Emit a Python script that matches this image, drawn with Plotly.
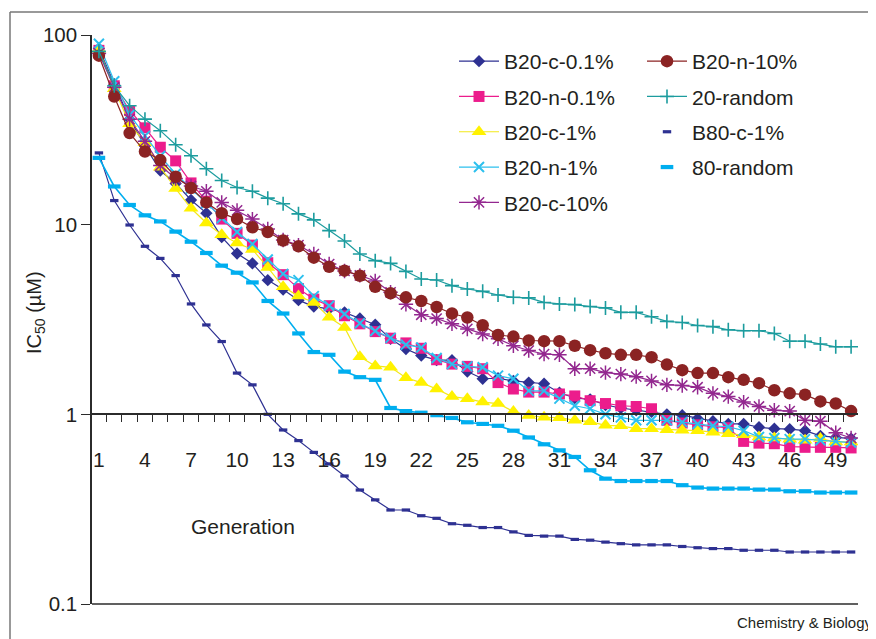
import plotly.graph_objects as go

generation = list(range(1, 51))

b20_c_01 = [85, 55, 36, 26, 19.3, 16.5, 13.5, 11.5, 8.6, 7.05,
            6.25, 5.1, 4.55, 4.0, 3.7, 3.6, 3.45, 3.2, 2.97, 2.5,
            2.21, 2.04, 1.93, 1.93, 1.68, 1.54, 1.55, 1.5, 1.47, 1.45,
            1.3, 1.22, 1.2, 1.12, 1.08, 1.05, 1.03, 1.0, 0.99, 0.95,
            0.92, 0.89, 0.89, 0.855, 0.84, 0.835, 0.82, 0.77, 0.755, 0.745]
b20_n_01 = [83, 54, 40, 32.4, 25.6, 21.7, 16.6, 13.3, 10.7, 9.0,
            7.8, 6.3, 5.45, 4.6, 4.05, 3.74, 3.31, 3.0, 2.73, 2.52,
            2.38, 2.23, 1.94, 1.84, 1.79, 1.74, 1.47, 1.36, 1.31, 1.31,
            1.28, 1.25, 1.18, 1.14, 1.11, 1.10, 1.07, 0.93, 0.9, 0.88,
            0.86, 0.85, 0.72, 0.705, 0.70, 0.675, 0.67, 0.67, 0.67, 0.665]
b20_c_1 = [84, 52, 34, 27, 20.1, 15.5, 12.2, 10.2, 8.85, 8.0,
           7.4, 5.95, 4.7, 4.2, 3.89, 3.25, 2.87, 2.01, 1.8, 1.77,
           1.56, 1.47, 1.36, 1.24, 1.21, 1.16, 1.14, 1.035, 0.985, 0.965,
           0.96, 0.93, 0.915, 0.875, 0.87, 0.84, 0.84, 0.83, 0.825, 0.82,
           0.805, 0.79, 0.78, 0.76, 0.75, 0.74, 0.73, 0.745, 0.715, 0.715]
b20_n_1 = [90, 57, 38, 29.4, 23, 18.5, 15.5, 13, 10.8, 9.15,
           7.9, 6.55, 5.5, 5.1, 4.2, 3.74, 3.38, 3.02, 2.75, 2.53,
           2.33, 2.25, 1.98, 1.84, 1.79, 1.77, 1.6, 1.54, 1.33, 1.33,
           1.21, 1.11, 1.07, 1.0, 0.964, 0.93, 0.93, 0.93, 0.91, 0.89,
           0.87, 0.86, 0.82, 0.76, 0.75, 0.74, 0.74, 0.73, 0.72, 0.71]
b20_c_10 = [80, 53, 36, 27.5, 20.5, 17.5, 16, 15.0, 13.1, 11.9,
            10.7, 9.5, 8.3, 7.8, 7.0, 6.2, 5.7, 5.4, 5.05, 4.4,
            3.8, 3.35, 3.2, 3.0, 2.82, 2.65, 2.5, 2.3, 2.17, 2.08,
            2.06, 1.74, 1.74, 1.66, 1.63, 1.58, 1.50, 1.43, 1.42, 1.39,
            1.29, 1.24, 1.16, 1.10, 1.05, 1.04, 0.93, 0.92, 0.80, 0.75]
b20_n_10 = [77.8, 47.4, 30.4, 24.3, 21.9, 17.9, 15.6, 13.1, 11.5, 10.7,
            9.68, 9.15, 8.25, 7.69, 6.7, 6.0, 5.72, 5.38, 4.7, 4.35,
            4.14, 3.96, 3.68, 3.4, 3.24, 2.95, 2.62, 2.57, 2.45, 2.43,
            2.43, 2.3, 2.18, 2.1, 2.06, 2.06, 2.0, 1.83, 1.71, 1.65,
            1.65, 1.57, 1.52, 1.46, 1.34, 1.29, 1.27, 1.17, 1.14, 1.04]
random_20 = [82, 54, 42.4, 36, 31.3, 26.4, 23.1, 19.7, 17.1, 15.7,
             15.0, 13.8, 12.9, 11.4, 10.6, 9.3, 8.2, 7.0, 6.46, 6.25,
             5.67, 5.17, 5.11, 4.77, 4.58, 4.45, 4.26, 4.14, 4.11, 3.89,
             3.82, 3.79, 3.70, 3.64, 3.45, 3.45, 3.27, 3.09, 3.05, 2.94,
             2.90, 2.79, 2.76, 2.76, 2.67, 2.43, 2.43, 2.35, 2.27, 2.27]
b80_c_1 = [23.9, 13.4, 9.96, 7.69, 6.64, 5.39, 3.82, 2.96, 2.42, 1.65,
           1.43, 1.0, 0.827, 0.727, 0.63, 0.548, 0.473, 0.399, 0.354, 0.313,
           0.313, 0.292, 0.283, 0.265, 0.26, 0.253, 0.253, 0.24, 0.23, 0.228,
           0.228, 0.219, 0.217, 0.212, 0.208, 0.205, 0.205, 0.205, 0.201, 0.198,
           0.196, 0.196, 0.192, 0.192, 0.192, 0.188, 0.188, 0.188, 0.188, 0.188]
random_80 = [22.5, 15.9, 12.7, 11.2, 10.4, 9.19, 8.13, 7.09, 6.08, 5.58,
             4.96, 3.96, 3.4, 2.67, 2.13, 2.06, 1.68, 1.57, 1.52, 1.08,
             1.04, 1.02, 0.99, 0.957, 0.908, 0.89, 0.87, 0.82, 0.755, 0.695,
             0.646, 0.596, 0.507, 0.458, 0.445, 0.445, 0.445, 0.445, 0.423, 0.411,
             0.406, 0.406, 0.406, 0.401, 0.401, 0.393, 0.393, 0.387, 0.387, 0.387]

x_tick_labels = [str(v) for v in range(1, 51, 3)]
y_tick_vals = [0.1, 1, 10, 100]
y_tick_text = ["0.1", "1", "10", "100"]

FONT = "Liberation Sans, Arial, Helvetica, sans-serif"
TXT = "#231f20"
AX = "#2b2b2b"

# the page body adds an 8px margin, so the figure is made 8px smaller
OFF = 8
W, H = 876 - OFF, 639 - OFF
# plot area in page pixels: x 92..858, y 35..604
PL, PR, PT, PB = 92, 858, 35, 604
ML, MR, MT, MB = PL - OFF, W - (PR - OFF), PT - OFF, H - (PB - OFF)
PW, PH = PR - PL, PB - PT


def px_x(p):
    return (p - PL) / PW


def px_y(p):
    return (PB - p) / PH


fig = go.Figure()

series = [
    ("B20-c-0.1%", b20_c_01, "#2e3192", dict(symbol="diamond", size=9.5, color="#2e3192"), "legend"),
    ("B20-n-0.1%", b20_n_01, "#ec1c8c", dict(symbol="square", size=11, color="#ec1c8c"), "legend"),
    ("B20-c-1%", b20_c_1, "#f2e81a", dict(symbol="triangle-up", size=13, color="#fff200"), "legend"),
    ("B20-n-1%", b20_n_1, "#2cc0ee", dict(symbol="x-thin", size=10, color="#2cc0ee",
                                          line=dict(color="#2cc0ee", width=2)), "legend"),
    ("B20-c-10%", b20_c_10, "#93278f", dict(symbol="asterisk", size=12, color="#93278f",
                                             line=dict(color="#93278f", width=1.5)), "legend"),
    ("B20-n-10%", b20_n_10, "#8b2323", dict(symbol="circle", size=12.5, color="#8b2323"), "legend2"),
    ("20-random", random_20, "#1c9c9e", dict(symbol="cross-thin", size=10, color="#1c9c9e",
                                             line=dict(color="#1c9c9e", width=1.6)), "legend2"),
]

for i, (name, vals, lc, mk, leg) in enumerate(series):
    fig.add_trace(go.Scatter(
        x=generation, y=vals, name=name, mode="lines+markers",
        line=dict(color=lc, width=1.2), marker=mk,
        legend=leg, legendgroup=name, legendrank=i + 1,
    ))

# dash-marker series: line without legend entry, markers with legend entry
dash_series = [
    ("B80-c-1%", b80_c_1, "#2e3192", 6.0, 3.2, 1.2),
    ("80-random", random_80, "#00aeef", 9.0, 4.2, 1.6),
]
for j, (name, vals, col, msize, mlw, lw) in enumerate(dash_series):
    fig.add_trace(go.Scatter(
        x=generation, y=vals, mode="lines", line=dict(color=col, width=lw),
        showlegend=False, hoverinfo="skip", legend="legend2",
    ))
    fig.add_trace(go.Scatter(
        x=generation, y=vals, name=name, mode="markers",
        marker=dict(symbol="line-ew", size=msize, color=col,
                    line=dict(color=col, width=mlw)),
        legend="legend2", legendgroup=name, legendrank=10 + j,
    ))

legend_common = dict(
    bgcolor="rgba(0,0,0,0)", borderwidth=0,
    font=dict(family=FONT, size=21, color=TXT),
    traceorder="grouped", tracegroupgap=5, itemwidth=40,
    xanchor="left", yanchor="top",
)

fig.update_layout(
    width=W, height=H,
    margin=dict(l=ML, r=MR, t=MT, b=MB, autoexpand=False),
    paper_bgcolor="white", plot_bgcolor="white",
    font=dict(family=FONT, color=TXT, size=20),
    legend=dict(x=px_x(454), y=px_y(41), **legend_common),
    legend2=dict(x=px_x(642), y=px_y(41), **legend_common),
    xaxis=dict(
        range=[0.55, 50.45], anchor="free", position=1 / 3,
        showline=True, linecolor=AX, linewidth=1.5,
        tickmode="array", tickvals=list(range(1, 51, 3)), ticktext=x_tick_labels,
        ticks="", ticklabelstandoff=27,
        tickfont=dict(family=FONT, size=21, color=TXT),
        minor=dict(tickmode="array", tickvals=[k + 0.5 for k in range(0, 51)],
                   ticks="outside", ticklen=7, tickwidth=1.3, tickcolor=AX,
                   showgrid=False),
        showgrid=False, zeroline=False,
    ),
    yaxis=dict(
        type="log", range=[-1, 2],
        showline=True, linecolor=AX, linewidth=1.5,
        tickmode="array", tickvals=y_tick_vals, ticktext=y_tick_text,
        ticks="outside", ticklen=9, tickwidth=1.3, tickcolor=AX,
        tickfont=dict(family=FONT, size=20.5, color=TXT),
        showgrid=False, zeroline=False,
    ),
    shapes=[
        dict(type="line", xref="paper", yref="paper", x0=0, x1=1, y0=0, y1=0,
             line=dict(color=AX, width=1.5)),
        dict(type="line", xref="paper", yref="paper", x0=px_x(10), x1=px_x(10),
             y0=px_y(639), y1=px_y(12), line=dict(color="#777777", width=1.5)),
        dict(type="line", xref="paper", yref="paper", x0=px_x(10), x1=px_x(876),
             y0=px_y(12), y1=px_y(12), line=dict(color="#777777", width=1.5)),
    ],
    annotations=[
        dict(text="Generation", xref="paper", yref="paper", x=px_x(243), y=px_y(526),
             xanchor="center", yanchor="middle",
             showarrow=False, font=dict(family=FONT, size=21, color=TXT)),
        dict(text="Chemistry & Biology", xref="paper", yref="paper", x=px_x(875), y=px_y(622),
             xanchor="right", yanchor="middle",
             showarrow=False, font=dict(family=FONT, size=15, color=TXT)),
        dict(text="IC<sub>50</sub> (µM)", xref="paper", yref="paper", x=px_x(35), y=px_y(313),
             xanchor="center", yanchor="middle",
             textangle=-90, showarrow=False, font=dict(family=FONT, size=20, color=TXT)),
    ],
)

fig.write_html("out.html")
